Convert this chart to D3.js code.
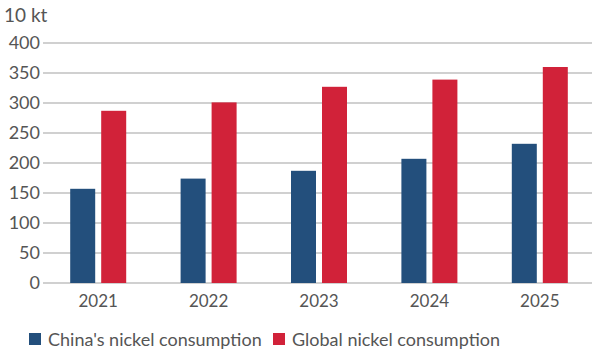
<!DOCTYPE html>
<html>
<head>
<meta charset="utf-8">
<script src="https://cdn.jsdelivr.net/npm/d3@7"></script>
<style>
  body { margin: 0; background: #fff; }
  svg { display: block; font-family: Lato, "Noto Sans", sans-serif; }
</style>
</head>
<body>
<div id="chart"></div>
<script>
// chart data
const years = ["2021", "2022", "2023", "2024", "2025"];
const chinaValues = [157, 174, 187, 207, 232];
const globalValues = [287, 301, 327, 339, 360];
const seriesNames = ["China's nickel consumption", "Global nickel consumption"];
const seriesColors = ["#234f7c", "#d12239"];
const yTicks = [0, 50, 100, 150, 200, 250, 300, 350, 400];

const width = 592, height = 352;
const margin = { top: 43, right: -3, bottom: 69, left: 43 };

const svg = d3.select("#chart").append("svg")
    .attr("width", width)
    .attr("height", height);

const x = d3.scaleBand()
    .domain(years)
    .range([margin.left, width - margin.right]);

const y = d3.scaleLinear()
    .domain([0, 400])
    .range([height - margin.bottom, margin.top]);

// gridlines
svg.append("g")
    .selectAll("line")
    .data(yTicks)
    .join("line")
    .attr("x1", margin.left)
    .attr("x2", width)
    .attr("y1", d => y(d))
    .attr("y2", d => y(d))
    .attr("stroke", "#c0c0c0")
    .attr("stroke-width", 1.5);

// y labels
svg.append("g")
    .selectAll("text")
    .data(yTicks)
    .join("text")
    .attr("x", 40)
    .attr("y", d => y(d))
    .attr("dy", "0.35em")
    .attr("text-anchor", "end")
    .attr("font-size", 18)
    .attr("fill", "#555")
    .text(d => d);

svg.append("text")
    .attr("x", 4)
    .attr("y", 22)
    .attr("font-size", 19)
    .attr("fill", "#555")
    .text("10 kt");

// bars
const barW = 25, gap = 6;
const groups = svg.append("g")
    .selectAll("g")
    .data(years)
    .join("g")
    .attr("transform", d => `translate(${x(d) + x.bandwidth() / 2},0)`);

groups.append("rect")
    .attr("x", -barW - gap / 2)
    .attr("width", barW)
    .attr("y", (d, i) => y(chinaValues[i]))
    .attr("height", (d, i) => y(0) - y(chinaValues[i]))
    .attr("fill", seriesColors[0]);

groups.append("rect")
    .attr("x", gap / 2)
    .attr("width", barW)
    .attr("y", (d, i) => y(globalValues[i]))
    .attr("height", (d, i) => y(0) - y(globalValues[i]))
    .attr("fill", seriesColors[1]);

// x labels
groups.append("text")
    .attr("y", y(0) + 24)
    .attr("text-anchor", "middle")
    .attr("font-size", 17)
    .attr("fill", "#555")
    .text(d => d);

// legend
const legendPos = [29, 273];
const legend = svg.append("g")
    .selectAll("g")
    .data(seriesNames)
    .join("g")
    .attr("transform", (d, i) => `translate(${legendPos[i]},333)`);

legend.append("rect")
    .attr("width", 12)
    .attr("height", 12)
    .attr("fill", (d, i) => seriesColors[i]);

legend.append("text")
    .attr("x", 19)
    .attr("y", 13)
    .attr("font-size", 18)
    .attr("fill", "#555")
    .text(d => d);
</script>
</body>
</html>
